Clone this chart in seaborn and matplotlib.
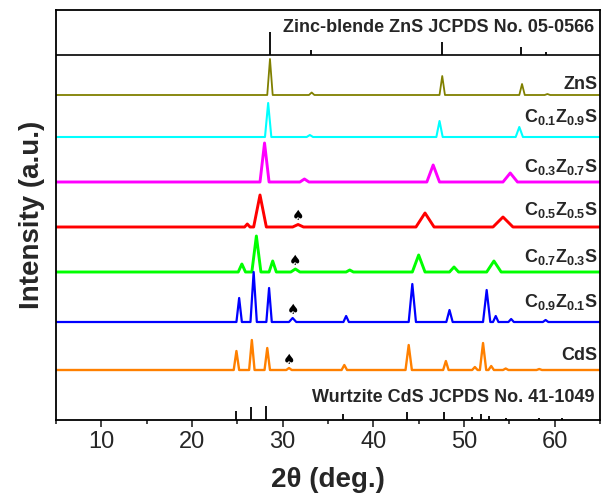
import numpy as np
import pandas as pd
import matplotlib
matplotlib.use("Agg")
import matplotlib.pyplot as plt
import seaborn as sns

# --- data (2theta in deg, heights in arbitrary units) ---
SAMPLES = ["ZnS", "C$_{0.1}$Z$_{0.9}$S", "C$_{0.3}$Z$_{0.7}$S", "C$_{0.5}$Z$_{0.5}$S",
           "C$_{0.7}$Z$_{0.3}$S", "C$_{0.9}$Z$_{0.1}$S", "CdS"]
COLORS = ["#808000", "#00FFFF", "#FF00FF", "#FF0000", "#00FF00", "#0000FF", "#FF8000"]
LINE_WIDTHS = [1.3, 1.5, 2.1, 2.1, 2.1, 1.6, 1.7]

# each peak: (center, height, half base width)
PEAKS_ZNS = [(28.6, 36, 0.3), (33.2, 2.5, 0.3), (47.6, 19, 0.3), (56.4, 11, 0.3), (59.2, 1, 0.3)]
PEAKS_C01 = [(28.4, 34, 0.35), (33.0, 2, 0.35), (47.3, 16, 0.35), (56.1, 10, 0.4)]
PEAKS_C03 = [(28.0, 39, 0.5), (32.4, 3, 0.5), (46.6, 17, 0.7), (55.1, 9, 0.8)]
PEAKS_C05 = [(26.1, 3, 0.3), (27.5, 32, 0.7), (31.7, 2.5, 0.6), (45.7, 14, 1.0), (54.3, 10, 1.1)]
PEAKS_C07 = [(25.5, 8, 0.4), (27.1, 36, 0.5), (28.9, 11, 0.4), (31.4, 3, 0.5), (37.4, 2, 0.4),
             (45.0, 17, 0.7), (48.9, 5, 0.5), (53.3, 11, 0.8)]
PEAKS_C09 = [(25.2, 24, 0.3), (26.8, 50, 0.35), (28.5, 34, 0.3), (31.1, 4, 0.4), (37.0, 6, 0.3),
             (44.3, 38, 0.4), (48.4, 12, 0.35), (52.5, 32, 0.4), (53.5, 6, 0.3), (55.2, 3, 0.3),
             (59.0, 2, 0.3)]
PEAKS_CDS = [(24.9, 19, 0.3), (26.6, 30, 0.3), (28.3, 22, 0.3), (30.7, 2, 0.3), (36.8, 5, 0.3),
             (43.9, 25, 0.35), (48.0, 9, 0.3), (51.2, 3, 0.3), (52.1, 27, 0.35), (53.0, 4, 0.3),
             (54.6, 1.5, 0.3), (58.3, 1, 0.3)]
ALL_PEAKS = [PEAKS_ZNS, PEAKS_C01, PEAKS_C03, PEAKS_C05, PEAKS_C07, PEAKS_C09, PEAKS_CDS]

# spade markers (secondary phase)
SPADE_POS = [31.7, 31.4, 31.1, 30.7]
SPADE_HEIGHT = [2.5, 3, 4, 2]

# reference sticks
ZNS_REF_POS = [28.56, 33.09, 47.52, 56.29, 59.06]
ZNS_REF_H = [23, 5, 13, 8.5, 3.3]
CDS_REF_POS = [24.81, 26.51, 28.18, 36.62, 43.68, 47.84, 50.88, 51.82, 52.80, 54.58, 58.28, 60.83]
CDS_REF_H = [9.3, 13.3, 14.3, 6, 8.5, 8.5, 3, 6, 4, 2, 2, 2]

# --- layout ---
OFFSETS = [325, 283, 238, 193, 148, 98, 50]
LABEL_Y = [331, 298, 248, 205, 158, 113, 60]
SEP_Y = 365
X_MIN, X_MAX = 5, 65

sns.set_style("ticks")
plt.rcParams["font.family"] = ["Liberation Sans", "DejaVu Sans"]
plt.rcParams["mathtext.fontset"] = "custom"
plt.rcParams["mathtext.bf"] = "Liberation Sans:bold"
plt.rcParams["mathtext.rm"] = "Liberation Sans:bold"
plt.rcParams["mathtext.default"] = "bf"


def trace(peaks):
    xs, ys = [X_MIN], [0.0]
    for c, h, b in peaks:
        xs += [c - b, c, c + b]
        ys += [0.0, h, 0.0]
    xs.append(X_MAX)
    ys.append(0.0)
    return pd.DataFrame({"x": xs, "y": ys})


fig = plt.figure(figsize=(6.02, 4.99), dpi=100)
ax = fig.add_axes([56 / 602, 79 / 499, 544 / 602, 410 / 499])

for name, peaks, off, col, lw, ly in zip(SAMPLES, ALL_PEAKS, OFFSETS, COLORS, LINE_WIDTHS, LABEL_Y):
    df = trace(peaks)
    df["y"] = df["y"] + off
    sns.lineplot(data=df, x="x", y="y", color=col, lw=lw, estimator=None, sort=False, ax=ax)
    ax.text(64.7, ly, name, ha="right", va="baseline", fontsize=13, fontweight="bold")

# spades on the four Cd-rich samples
for pos, h, off in zip(SPADE_POS, SPADE_HEIGHT, OFFSETS[3:]):
    ax.text(pos, off + h + 1, "\u2660", ha="center", va="bottom", fontsize=10,
            family=["DejaVu Sans"], color="black")

# reference patterns
ax.axhline(SEP_Y, color="black", lw=1.2)
ax.vlines(ZNS_REF_POS, SEP_Y, [SEP_Y + h for h in ZNS_REF_H], color="black", lw=1.3)
ax.vlines(CDS_REF_POS, 0, CDS_REF_H, color="black", lw=1.3)
ax.text(64.4, 393, "Zinc-blende ZnS JCPDS No. 05-0566", ha="right", va="center",
        fontsize=13, fontweight="bold")
ax.text(64.4, 23, "Wurtzite CdS JCPDS No. 41-1049", ha="right", va="center",
        fontsize=13, fontweight="bold")

ax.set_xlim(X_MIN, X_MAX)
ax.set_ylim(0, 410)
ax.set_xticks([10, 20, 30, 40, 50, 60])
ax.set_xticks([5, 15, 25, 35, 45, 55, 65], minor=True)
ax.set_yticks([])
ax.tick_params(axis="x", which="major", direction="out", length=5, width=1.2, labelsize=17, pad=3)
ax.tick_params(axis="x", which="minor", direction="out", length=3, width=1.2)
for s in ax.spines.values():
    s.set_linewidth(1.3)
    s.set_color("black")

ax.set_xlabel("2\u03b8 (deg.)", fontsize=20, fontweight="bold", labelpad=10)
ax.set_ylabel("Intensity (a.u.)", fontsize=20, fontweight="bold", labelpad=8)

fig.savefig("out.png", dpi=100)
